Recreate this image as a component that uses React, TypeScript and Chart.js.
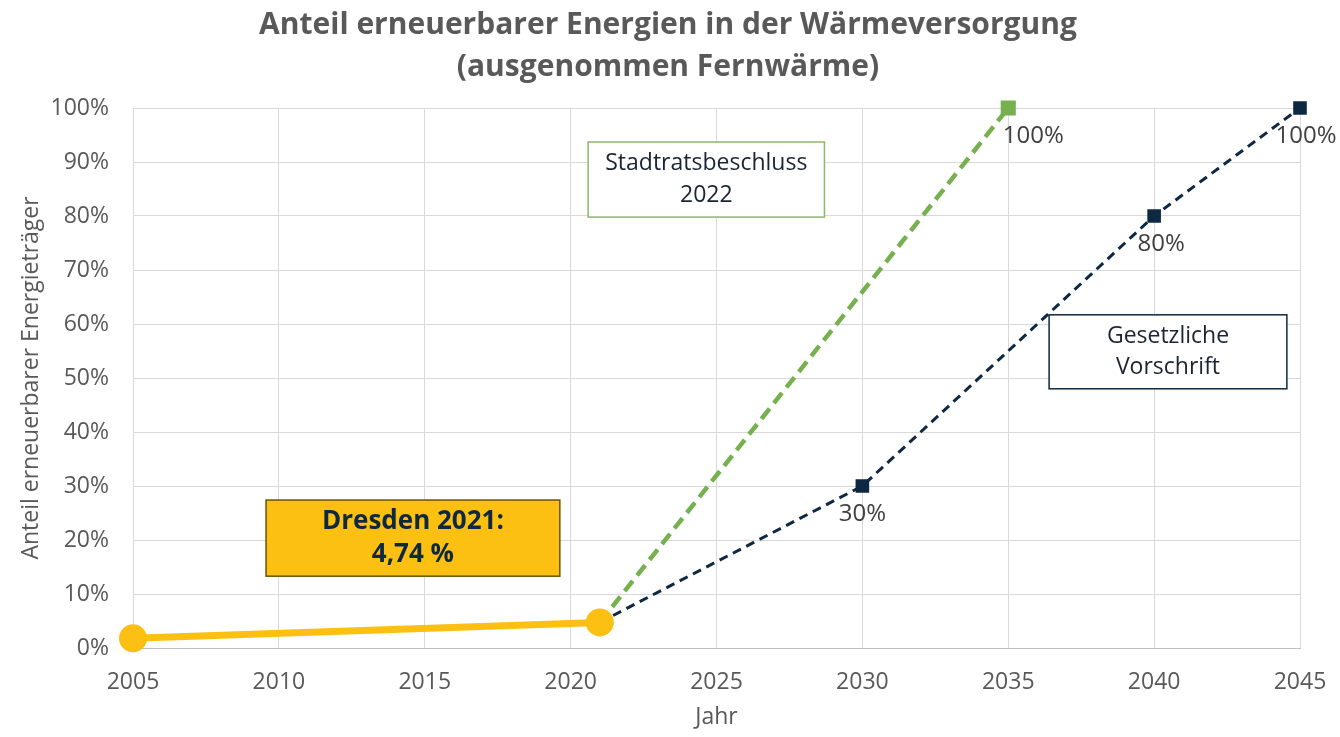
import React, { useEffect, useRef } from "react";
import Chart from "chart.js/auto";

// Dresden actual values (2005 and 2021)
const dresdenYears = [2005, 2021];
const dresdenShare = [1.8, 4.74];

// city council decision 2022
const councilYears = [2021, 2035];
const councilShare = [4.74, 100];

// legal requirement
const lawYears = [2021, 2030, 2040, 2045];
const lawShare = [4.74, 30, 80, 100];

const yearMin = 2005;
const yearMax = 2045;
const yearStep = 5;
const shareMax = 100;
const shareStep = 10;

const titleLines = ["Anteil erneuerbarer Energien in der Wärmeversorgung", "(ausgenommen Fernwärme)"];

// text boxes, placed in data coordinates
const boxes = [
  { lines: ["Dresden 2021:", "4,74 %"], x: [2009.56, 2019.63], y: [27.4, 13.3], fill: "#FBC012", stroke: "#6B5400", bold: true, size: 26, gap: 33 },
  { lines: ["Stadtratsbeschluss", "2022"], x: [2020.6, 2028.7], y: [93.7, 79.8], fill: "#ffffff", stroke: "#8DB76B", bold: false, size: 23, gap: 32 },
  { lines: ["Gesetzliche", "Vorschrift"], x: [2036.4, 2044.55], y: [61.7, 48.0], fill: "#ffffff", stroke: "#0E2841", bold: false, size: 23, gap: 31 },
];

const FONT = "'Open Sans', Roboto, sans-serif";

const pointLabels = {
  id: "pointLabels",
  afterDatasetsDraw(chart: any) {
    const ctx = chart.ctx;
    ctx.save();
    ctx.font = `24px ${FONT}`;
    ctx.fillStyle = "#404040";
    ctx.textAlign = "center";
    ctx.textBaseline = "middle";
    chart.data.datasets.forEach((ds: any, di: number) => {
      if (!ds.labelDx) return;
      const meta = chart.getDatasetMeta(di);
      meta.data.forEach((pt: any, i: number) => {
        if (i === 0) return;
        ctx.fillText(ds.data[i].y + "%", pt.x + ds.labelDx[i], pt.y + 28);
      });
    });
    ctx.restore();
  },
};

const textBoxes = {
  id: "textBoxes",
  afterDatasetsDraw(chart: any) {
    const ctx = chart.ctx;
    const xs = chart.scales.x;
    const ys = chart.scales.y;
    ctx.save();
    boxes.forEach((b) => {
      const x1 = xs.getPixelForValue(b.x[0]);
      const x2 = xs.getPixelForValue(b.x[1]);
      const y1 = ys.getPixelForValue(b.y[0]);
      const y2 = ys.getPixelForValue(b.y[1]);
      ctx.fillStyle = b.fill;
      ctx.fillRect(x1, y1, x2 - x1, y2 - y1);
      ctx.lineWidth = 1.5;
      ctx.strokeStyle = b.stroke;
      ctx.strokeRect(x1, y1, x2 - x1, y2 - y1);
      ctx.fillStyle = b.bold ? "#0E2841" : "#1A2433";
      ctx.font = `${b.bold ? "bold " : ""}${b.size}px ${FONT}`;
      ctx.textAlign = "center";
      ctx.textBaseline = "middle";
      const cx = (x1 + x2) / 2;
      const cy = (y1 + y2) / 2;
      b.lines.forEach((line, i) => {
        ctx.fillText(line, cx, cy + (i - (b.lines.length - 1) / 2) * b.gap);
      });
    });
    ctx.restore();
  },
};

const App = () => {
  const canvasRef = useRef<HTMLCanvasElement>(null);

  useEffect(() => {
    document.body.style.margin = "0";
    const ctx = canvasRef.current?.getContext("2d");
    if (!ctx) return;

    const toPts = (xs: number[], ys: number[]) => xs.map((x, i) => ({ x, y: ys[i] }));

    const chart = new Chart(ctx, {
      type: "line",
      data: {
        datasets: [
          {
            label: "Stadtratsbeschluss 2022",
            data: toPts(councilYears, councilShare),
            borderColor: "#77B04F",
            backgroundColor: "#77B04F",
            borderWidth: 4.5,
            borderDash: [13, 7],
            pointStyle: "rect",
            pointRadius: [0, 7.5],
            pointHoverRadius: [0, 7.5],
            labelDx: [0, 25],
            clip: false,
            order: 2,
          },
          {
            label: "Gesetzliche Vorschrift",
            data: toPts(lawYears, lawShare),
            borderColor: "#0E2841",
            backgroundColor: "#0E2841",
            borderWidth: 3,
            borderDash: [9, 6],
            pointStyle: "rect",
            pointRadius: [0, 7.5, 7.5, 7.5],
            pointHoverRadius: [0, 7.5, 7.5, 7.5],
            labelDx: [0, 0, 7, 6],
            clip: false,
            order: 1,
          },
          {
            label: "Dresden",
            data: toPts(dresdenYears, dresdenShare),
            borderColor: "#FBC012",
            backgroundColor: "#FBC012",
            borderWidth: 7,
            pointStyle: "circle",
            pointRadius: 10.5,
            pointHoverRadius: 10.5,
            clip: false,
            order: 0,
          },
        ] as any,
      },
      options: {
        animation: false,
        responsive: true,
        maintainAspectRatio: false,
        layout: { padding: { left: 0, right: 4, top: 0, bottom: 0 } },
        plugins: {
          legend: { display: false },
          tooltip: { enabled: false },
          title: {
            display: true,
            text: titleLines,
            color: "#595959",
            font: { family: FONT, size: 30, weight: "bold", lineHeight: 1.4 },
            padding: { top: 4, bottom: 20 },
          },
        },
        scales: {
          x: {
            type: "linear",
            min: yearMin,
            max: yearMax,
            ticks: {
              stepSize: yearStep,
              color: "#595959",
              font: { family: FONT, size: 23 },
              padding: 21,
              callback: (v: any) => String(v),
            },
            grid: { color: "#D9D9D9", drawTicks: false },
            border: { color: "#BFBFBF" },
            title: {
              display: true,
              text: "Jahr",
              color: "#595959",
              font: { family: FONT, size: 23 },
              padding: { top: 0, bottom: 6 },
            },
            afterFit: (s: any) => { s.height = 89; s.paddingRight = 40; },
          },
          y: {
            min: 0,
            max: shareMax,
            ticks: {
              stepSize: shareStep,
              color: "#595959",
              font: { family: FONT, size: 23 },
              padding: 24,
              callback: (v: any) => v + "%",
            },
            grid: { color: "#D9D9D9", drawTicks: false },
            border: { color: "#D9D9D9" },
            title: {
              display: true,
              text: "Anteil erneuerbarer Energieträger",
              color: "#595959",
              font: { family: FONT, size: 23 },
              padding: { top: 18, bottom: 0 },
            },
            afterFit: (s: any) => { s.width = 133; },
          },
        },
      } as any,
      plugins: [pointLabels, textBoxes],
    });

    return () => chart.destroy();
  }, []);

  return (
    <div style={{ position: "relative", width: 1340, height: 737 }}>
      <canvas ref={canvasRef}></canvas>
    </div>
  );
};

export default App;
